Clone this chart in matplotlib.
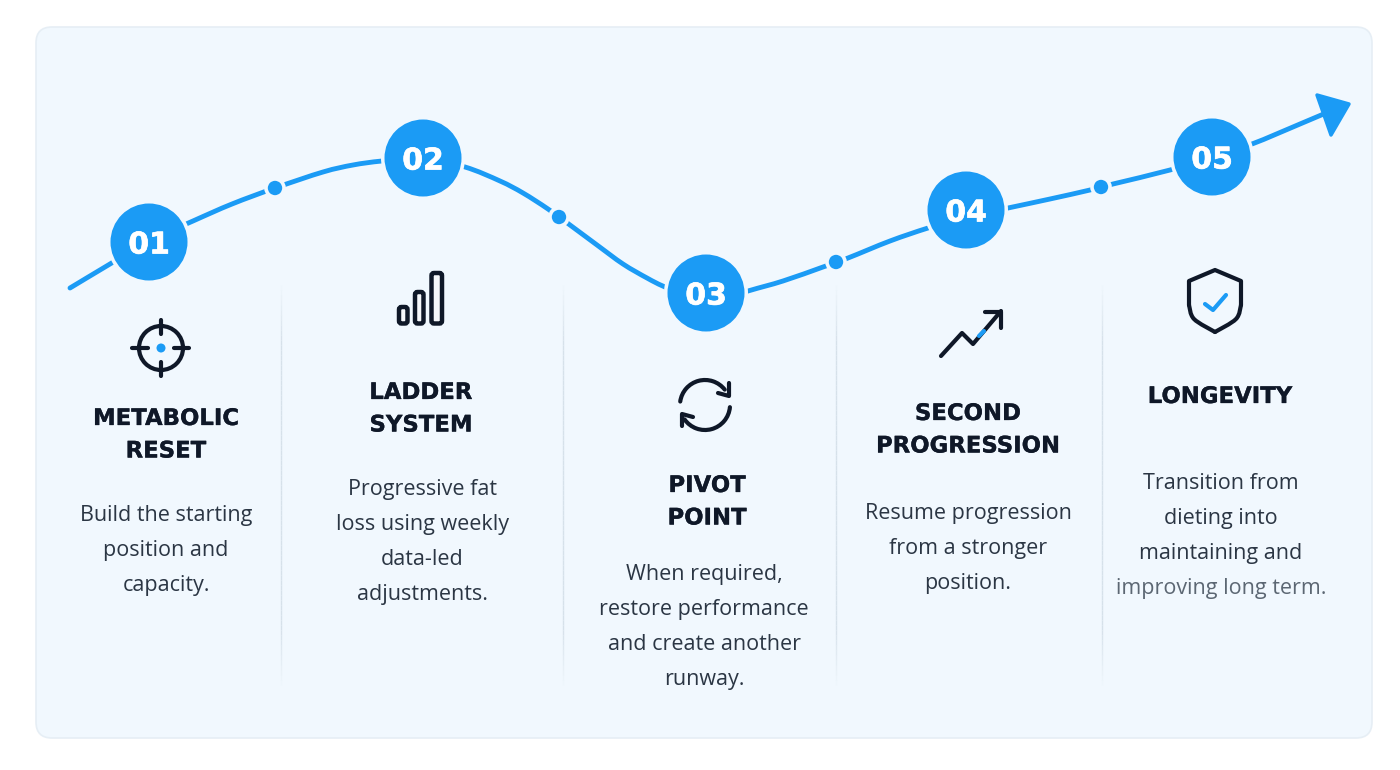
import numpy as np
import matplotlib
matplotlib.use("Agg")
import matplotlib.pyplot as plt
import matplotlib.patheffects as pe
from matplotlib.path import Path
from matplotlib.collections import LineCollection
from matplotlib.patches import Circle, FancyBboxPatch, PathPatch, Polygon, Arc

BLUE = "#1b9bf5"
DARK = "#0f1828"
BODY = "#2b3644"
PANEL = "#f1f8fe"

# courbe (pixels)
curve_x = [70, 110, 149, 193, 232, 275, 323, 353, 382, 423, 465, 500, 523, 548, 570, 597,
           623, 647, 665, 706, 748, 783, 823, 848, 890, 928, 966, 1008, 1050, 1090, 1113, 1170,
           1212, 1252, 1300, 1333]
curve_y = [288, 264, 241, 221, 204, 188, 172, 165, 161, 158, 167, 181, 193, 209, 225, 245,
           264, 278, 287, 304, 291, 281, 267, 258, 241, 228, 217, 208, 199, 190, 184, 170,
           157, 144, 124, 110]
arrow_x = [1349, 1317, 1331]
arrow_y = [104, 95, 135]

step_labels = ["01", "02", "03", "04", "05"]
step_x = [149, 423, 706, 966, 1212]
step_y = [242, 158, 293, 210, 157]
dot_x = [275, 559, 836, 1101]
dot_y = [188, 217, 262, 187]
divider_x = [281, 563, 836, 1102]

titles = [["METABOLIC", "RESET"], ["LADDER", "SYSTEM"], ["PIVOT", "POINT"],
          ["SECOND", "PROGRESSION"], ["LONGEVITY"]]
title_x = [166, 421, 707, 968, 1220]
title_y = [416, 390, 483, 411, 394]
bodies = [["Build the starting", "position and", "capacity."],
          ["Progressive fat", "loss using weekly", "data-led", "adjustments."],
          ["When required,", "restore performance", "and create another", "runway."],
          ["Resume progression", "from a stronger", "position."],
          ["Transition from", "dieting into", "maintaining and", "improving long term."]]
body_x = [166, 422, 704, 968, 1221]
body_y = [513, 487, 572, 511, 481]

bars_x = [399, 415, 431.5]
bars_w = [8.5, 8.5, 10.5]
bars_top = [307, 292, 273]
bars_bottom = 323.5
trend_x = [941, 962, 973, 1001]
trend_y = [356, 333, 344, 311]
shield_top_x = [1189, 1189, 1215, 1241, 1241]
shield_top_y = [305, 281, 270, 281, 305]
shield_right_x = [1241, 1236, 1215]
shield_right_y = [305, 319, 332]
shield_left_x = [1215, 1194, 1189]
shield_left_y = [332, 319, 305]
check_x = [1205, 1213, 1226]
check_y = [304, 310, 295]


def lisse(xs, ys):
    # passe une courbe de bezier par les points lus
    pts = np.column_stack([xs, ys]).astype(float)
    verts = [pts[0]]
    codes = [Path.MOVETO]
    for i in range(len(pts) - 1):
        p0 = pts[max(i - 1, 0)]
        p1 = pts[i]
        p2 = pts[i + 1]
        p3 = pts[min(i + 2, len(pts) - 1)]
        verts += [p1 + (p2 - p0) / 6, p2 - (p3 - p1) / 6, p2]
        codes += [Path.CURVE4] * 3
    return Path(verts, codes)


fig = plt.figure(figsize=(14, 7.7), dpi=100, facecolor="white")
ax = fig.add_axes([0, 0, 1, 1])
ax.set_xlim(0, 1400)
ax.set_ylim(770, 0)
ax.axis("off")

ax.add_patch(FancyBboxPatch((50, 41), 1308, 683, boxstyle="round,pad=14,rounding_size=16",
                            fc=PANEL, ec="#e6eef5", lw=1.2, zorder=0))

# separateurs, qui s'effacent aux deux bouts
ys = np.arange(280, 686, 5)
fade = np.clip(np.minimum(ys - 280, 685 - ys) / 60, 0, 1)
for x in divider_x:
    segs = [[(x, a), (x, a + 5)] for a in ys[:-1]]
    lc = LineCollection(segs, colors="#d6e1ea", linewidths=1.0, alpha=fade[:-1], zorder=1)
    ax.add_collection(lc)

# courbe et fleche
ax.add_patch(PathPatch(lisse(curve_x, curve_y), fc="none", ec=BLUE, lw=3.5,
                       capstyle="round", zorder=2))
ax.add_patch(Polygon(np.column_stack([arrow_x, arrow_y]), closed=True, fc=BLUE, ec=BLUE,
                     lw=2.5, joinstyle="round", zorder=3))

for x, y in zip(dot_x, dot_y):
    ax.add_patch(Circle((x, y), 9, fc=BLUE, ec=PANEL, lw=2.6, zorder=4))
for x, y, lab in zip(step_x, step_y, step_labels):
    ax.add_patch(Circle((x, y), 42, fc=PANEL, ec="none", zorder=4))
    ax.add_patch(Circle((x, y), 38.5, fc=BLUE, ec="none", zorder=5))
    t = ax.text(x, y, lab, color="white", fontsize=21.5, fontweight="bold",
                family="DejaVu Sans", ha="center", va="center_baseline", zorder=6)
    t.set_path_effects([pe.withStroke(linewidth=0.5, foreground="white")])

# textes
for x, y, lines in zip(title_x, title_y, titles):
    for i, line in enumerate(lines):
        t = ax.text(x, y + i * 32.5, line, color=DARK, fontsize=16.4, fontweight="bold",
                    family="DejaVu Sans", ha="center", va="center_baseline")
        t.set_path_effects([pe.withStroke(linewidth=0.2, foreground=DARK)])
for x, y, lines in zip(body_x, body_y, bodies):
    for i, line in enumerate(lines):
        col = "#5c6773" if line.startswith("improving") else BODY
        ax.text(x, y + i * 34.9, line, color=col, fontsize=15.5,
                family="Open Sans", ha="center", va="center_baseline")

icon = dict(color=DARK, lw=3.0, solid_capstyle="round", solid_joinstyle="round", zorder=3)
ring = dict(fc="none", ec=DARK, lw=3.0)

# icone cible
ax.add_patch(Circle((161, 348), 22, **ring))
ax.add_patch(Circle((161, 348), 4.5, fc=BLUE, ec="none"))
ax.plot([161, 161], [320, 334], **icon)
ax.plot([161, 161], [362, 376], **icon)
ax.plot([132, 148], [348, 348], **icon)
ax.plot([174, 189], [348, 348], **icon)

# icone barres
for x, w, top in zip(bars_x, bars_w, bars_top):
    ax.add_patch(FancyBboxPatch((x + 2, top + 2), w - 4, bars_bottom - top - 4,
                                boxstyle="round,pad=2,rounding_size=2.5", fc="#f6f8fb",
                                ec=DARK, lw=3.2))

# icone fleches circulaires
ax.add_patch(Arc((705, 405), 50, 50, theta1=188, theta2=322, capstyle="round", ec=DARK, lw=3.0))
ax.add_patch(Arc((705, 405), 50, 50, theta1=5, theta2=145, capstyle="round", ec=DARK, lw=3.0))
ax.plot([729, 729, 718], [383, 396, 393], **icon)
ax.plot([682, 682, 693], [426, 414, 417], **icon)

# icone tendance
ax.plot(trend_x, trend_y, **icon)
ax.plot([985, 1001, 1001], [312, 312, 328], **icon)
ax.plot([979, 984], [336, 331], color=BLUE, lw=3.0, solid_capstyle="round", zorder=4)

# icone bouclier
ax.plot(shield_top_x, shield_top_y, **icon)
ax.add_patch(PathPatch(lisse(shield_right_x, shield_right_y), capstyle="round", **ring))
ax.add_patch(PathPatch(lisse(shield_left_x, shield_left_y), capstyle="round", **ring))
ax.plot(check_x, check_y, color=BLUE, lw=3.0, solid_capstyle="round", solid_joinstyle="round")

fig.savefig("out.png", dpi=100)
